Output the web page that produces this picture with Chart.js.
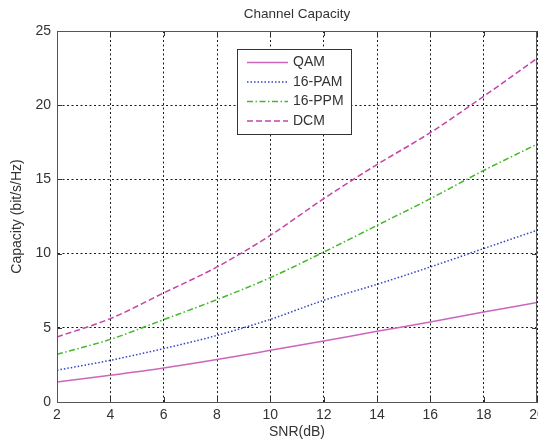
<!DOCTYPE html>
<html>
<head>
<meta charset="utf-8">
<script src="https://cdn.jsdelivr.net/npm/chart.js@4.4.1/dist/chart.umd.min.js"></script>
<style>
html,body{margin:0;padding:0;background:#fff;}
#wrap{width:538px;height:442px;position:relative;}
</style>
</head>
<body>
<div id="wrap"><canvas id="c" width="538" height="442"></canvas></div>
<script>
// ---- data ----
const snrDb = [2, 4, 6, 8, 10, 12, 14, 16, 18, 20];
const qam   = [1.35, 1.80, 2.29, 2.86, 3.48, 4.11, 4.76, 5.39, 6.06, 6.70];
const pam16 = [2.14, 2.81, 3.60, 4.49, 5.57, 6.85, 7.93, 9.10, 10.34, 11.57];
const ppm16 = [3.21, 4.22, 5.55, 6.90, 8.38, 10.10, 11.90, 13.70, 15.60, 17.37];
const dcm   = [4.38, 5.62, 7.35, 9.10, 11.23, 13.70, 16.00, 18.15, 20.60, 23.15];
const seriesLabels = ['QAM', '16-PAM', '16-PPM', 'DCM'];
const xTicks = [2, 4, 6, 8, 10, 12, 14, 16, 18, 20];
const yTicks = [0, 5, 10, 15, 20, 25];
const chartTitle = 'Channel Capacity';

const FONT = "'Liberation Sans', Arial, sans-serif";
const TXT = '#333333';

function pts(arr){ return snrDb.map((x,i)=>({x:x, y:arr[i]})); }

const styles = [
  {color:'#cc66bb', dash:[]},
  {color:'#3347c0', dash:[1.5,2]},
  {color:'#44b82a', dash:[6,2.5,1.5,2.5]},
  {color:'#c445a8', dash:[6,3]}
];
const values = [qam, pam16, ppm16, dcm];

const datasets = values.map((v,i)=>({
  label: seriesLabels[i],
  data: pts(v),
  borderColor: styles[i].color,
  borderDash: styles[i].dash,
  borderWidth: 1.5,
  pointRadius: 0,
  fill: false,
  cubicInterpolationMode: 'monotone'
}));

// inward tick marks on all four edges (MATLAB style)
const tickMarks = {
  id: 'tickMarks',
  afterDatasetsDraw(chart){
    const {ctx, chartArea:a, scales:{x, y}} = chart;
    ctx.save();
    ctx.strokeStyle = '#333';
    ctx.lineWidth = 1;
    ctx.setLineDash([]);
    const L = 5;
    xTicks.forEach(v=>{
      const px = Math.round(x.getPixelForValue(v)) + 0.5;
      ctx.beginPath();
      ctx.moveTo(px, a.bottom); ctx.lineTo(px, a.bottom - L);
      ctx.moveTo(px, a.top); ctx.lineTo(px, a.top + L);
      ctx.stroke();
    });
    yTicks.forEach(v=>{
      const py = Math.round(y.getPixelForValue(v)) + 0.5;
      ctx.beginPath();
      ctx.moveTo(a.left, py); ctx.lineTo(a.left + L, py);
      ctx.moveTo(a.right, py); ctx.lineTo(a.right - L, py);
      ctx.stroke();
    });
    ctx.restore();
  }
};

// title centred over the plot area
const plotTitle = {
  id: 'plotTitle',
  afterDraw(chart){
    const {ctx, chartArea:a} = chart;
    ctx.save();
    ctx.font = '13.5px ' + FONT;
    ctx.fillStyle = TXT;
    ctx.textAlign = 'center';
    ctx.textBaseline = 'middle';
    ctx.fillText(chartTitle, (a.left + a.right) / 2, 14);
    ctx.restore();
  }
};

// legend box drawn inside the plot area
const insideLegend = {
  id: 'insideLegend',
  afterDraw(chart){
    const {ctx} = chart;
    const left = 237, top = 49, w = 114, h = 85;
    ctx.save();
    ctx.fillStyle = '#fff';
    ctx.fillRect(left, top, w, h);
    ctx.strokeStyle = '#333';
    ctx.lineWidth = 1;
    ctx.setLineDash([]);
    ctx.strokeRect(left + 0.5, top + 0.5, w, h);
    ctx.font = '14px ' + FONT;
    ctx.textBaseline = 'middle';
    chart.data.datasets.forEach((ds, i)=>{
      const cy = top + 13.5 + i * 19.5;
      ctx.strokeStyle = ds.borderColor;
      ctx.lineWidth = 1.5;
      ctx.setLineDash(ds.borderDash || []);
      ctx.beginPath();
      ctx.moveTo(left + 10, cy);
      ctx.lineTo(left + 51, cy);
      ctx.stroke();
      ctx.setLineDash([]);
      ctx.fillStyle = TXT;
      ctx.fillText(ds.label, left + 56, cy);
    });
    ctx.restore();
  }
};

new Chart(document.getElementById('c'), {
  type: 'line',
  data: { datasets },
  options: {
    responsive: false,
    animation: false,
    devicePixelRatio: 1,
    layout: { padding: { left: 0, right: 1, top: 31, bottom: 0 } },
    plugins: {
      legend: { display: false },
      tooltip: { enabled: false },
      title: { display: false }
    },
    scales: {
      x: {
        type: 'linear',
        min: 2, max: 20,
        afterBuildTicks(s){ s.ticks = xTicks.map(v=>({value:v})); },
        afterFit(s){ s.height = 40; s.paddingLeft = 0; s.paddingRight = 0; },
        ticks: {
          color: TXT, padding: 5, maxRotation: 0, autoSkip: false,
          font: { family: FONT, size: 14 }
        },
        grid: { drawTicks: false, color: '#1a1a1a', lineWidth: 1 },
        border: { display: true, color: '#555', width: 1, dash: [2, 2.5] },
        title: {
          display: true, text: 'SNR(dB)', color: TXT,
          font: { family: FONT, size: 14 },
          padding: { top: 0, bottom: 1 }
        }
      },
      y: {
        type: 'linear',
        min: 0, max: 25,
        afterBuildTicks(s){ s.ticks = yTicks.map(v=>({value:v})); },
        afterFit(s){ s.width = 57; s.paddingTop = 0; s.paddingBottom = 0; },
        ticks: {
          color: TXT, padding: 6,
          font: { family: FONT, size: 14 }
        },
        grid: { drawTicks: false, color: '#1a1a1a', lineWidth: 1 },
        border: { display: true, color: '#555', width: 1, dash: [2, 2.5] },
        title: {
          display: true, text: 'Capacity (bit/s/Hz)', color: TXT,
          font: { family: FONT, size: 14 },
          padding: { top: 9, bottom: 0 }
        }
      }
    }
  },
  plugins: [tickMarks, plotTitle, insideLegend, {
    id: 'frame',
    afterDatasetsDraw(chart){
      const {ctx, chartArea:a} = chart;
      ctx.save();
      ctx.strokeStyle = '#555';
      ctx.lineWidth = 1;
      ctx.setLineDash([]);
      ctx.strokeRect(Math.round(a.left)+0.5, Math.round(a.top)+0.5, Math.round(a.right-a.left)-1, Math.round(a.bottom-a.top));
      ctx.restore();
    }
  }]
});
</script>
</body>
</html>
